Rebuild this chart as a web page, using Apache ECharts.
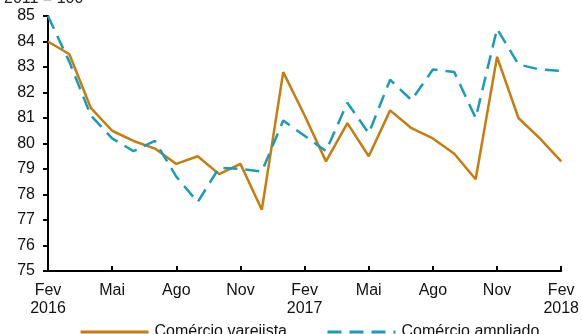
<!DOCTYPE html>
<html>
<head>
<meta charset="utf-8">
<script src="https://cdn.jsdelivr.net/npm/echarts@6/dist/echarts.min.js"></script>
<style>
  html, body { margin: 0; padding: 0; background: #ffffff; }
  #chart { width: 582px; height: 334px; }
</style>
</head>
<body>
<div id="chart"></div>
<script>
// Monthly index, Fev 2016 – Fev 2018 (2011 = 100)
const months = [
  'Fev\n2016', 'Mar', 'Abr', 'Mai', 'Jun', 'Jul', 'Ago', 'Set', 'Out', 'Nov', 'Dez', 'Jan',
  'Fev\n2017', 'Mar', 'Abr', 'Mai', 'Jun', 'Jul', 'Ago', 'Set', 'Out', 'Nov', 'Dez', 'Jan',
  'Fev\n2018'
];
const varejista = [
  84.0, 83.5, 81.4, 80.5, 80.1, 79.8, 79.2, 79.5, 78.8, 79.2, 77.4, 82.8,
  81.1, 79.3, 80.8, 79.5, 81.3, 80.6, 80.2, 79.6, 78.6, 83.4, 81.0, 80.2,
  79.3
];
const ampliado = [
  85.0, 83.2, 81.1, 80.2, 79.7, 80.1, 78.7, 77.7, 79.05, 79.0, 78.9, 80.9,
  80.3, 79.7, 81.6, 80.4, 82.5, 81.7, 82.9, 82.8, 81.0, 84.5, 83.1, 82.9,
  82.85
];
const yTicks = { min: 75, max: 85, step: 1 };

const font = 'Liberation Sans, Arial, sans-serif';
const orange = '#C77C0E';
const teal = '#1A9BB8';

const chart = echarts.init(document.getElementById('chart'), null, { renderer: 'canvas' });
chart.setOption({
  backgroundColor: '#ffffff',
  animation: false,
  textStyle: { fontFamily: font },
  graphic: [{
    type: 'text',
    left: 4,
    top: -9,
    style: { text: '2011 = 100', font: '16px ' + font, fill: '#222' }
  }],
  grid: { left: 48, right: 16, top: 16, bottom: 63, containLabel: false },
  legend: {
    top: 319,
    left: 74,
    itemGap: 39,
    itemWidth: 68,
    itemHeight: 14,
    itemStyle: { opacity: 0 },
    lineStyle: { width: 3 },
    textStyle: { fontSize: 16, color: '#111', fontFamily: font, padding: [0, 0, 0, 1] }
  },
  xAxis: {
    type: 'category',
    data: months,
    boundaryGap: false,
    axisLine: { lineStyle: { color: '#000', width: 2 } },
    axisTick: { inside: true, length: 5, interval: 2, lineStyle: { color: '#000', width: 2 } },
    axisLabel: {
      interval: 2, color: '#111', fontSize: 16, lineHeight: 18, margin: 11
    },
    splitLine: { show: false }
  },
  yAxis: {
    type: 'value',
    min: yTicks.min,
    max: yTicks.max,
    interval: yTicks.step,
    axisLine: { show: true, lineStyle: { color: '#000', width: 2 } },
    axisTick: { show: true, length: 5, lineStyle: { color: '#000', width: 2 } },
    axisLabel: { color: '#111', fontSize: 16, margin: 13 },
    splitLine: { show: false }
  },
  series: [
    {
      name: 'Comércio varejista',
      type: 'line',
      data: varejista,
      symbol: 'none',
      lineStyle: { color: orange, width: 2.5 },
      itemStyle: { color: orange }
    },
    {
      name: 'Comércio ampliado',
      type: 'line',
      data: ampliado,
      symbol: 'none',
      lineStyle: { color: teal, width: 2.5, type: [14, 8] },
      itemStyle: { color: teal }
    }
  ]
});
</script>
</body>
</html>
